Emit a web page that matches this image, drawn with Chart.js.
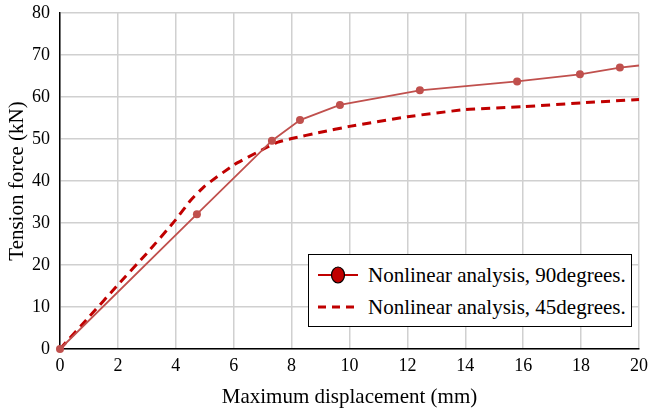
<!DOCTYPE html>
<html>
<head>
<meta charset="utf-8">
<script src="https://cdn.jsdelivr.net/npm/chart.js@4"></script>
<style>
  html, body { margin: 0; padding: 0; background: #fff; }
  #wrap { position: relative; width: 648px; height: 414px; }
  #legend {
    position: absolute; left: 308px; top: 254px; width: 324px; height: 73px;
    border: 1.5px solid #000; background: #fff; box-sizing: border-box;
    font-family: 'Liberation Serif', 'Times New Roman', serif; font-size: 21px; color: #000;
  }
  .row { position: absolute; left: 8px; height: 30px; display: flex; align-items: center; }
  .row svg { margin-right: 9px; }
</style>
</head>
<body>
<div id="wrap">
  <canvas id="chart" width="648" height="414"></canvas>
  <div id="legend">
    <div class="row" style="top:5px"><svg width="42" height="20"><line x1="1" y1="10" x2="41" y2="10" stroke="#C00000" stroke-width="2"/><ellipse cx="21" cy="10" rx="6.5" ry="8" fill="#C00000" stroke="#000" stroke-width="1.2"/></svg><span>Nonlinear analysis, 90degrees.</span></div>
    <div class="row" style="top:37px"><svg width="42" height="20"><line x1="1" y1="10" x2="41" y2="10" stroke="#C00000" stroke-width="3" stroke-dasharray="8,6"/></svg><span>Nonlinear analysis, 45degrees.</span></div>
  </div>
</div>
<script>
// data (displacement mm, force kN)
const disp90 = [0, 4.73, 7.32, 8.29, 9.67, 12.43, 15.79, 17.96, 19.34, 20];
const force90 = [0, 32.1, 49.6, 54.5, 58.1, 61.6, 63.7, 65.4, 67.0, 67.5];
const radius90 = [4, 4, 4, 4, 4, 4, 4, 4, 4, 0];

const disp45 = [0, 1, 2, 3, 4, 4.5, 5, 6, 7, 7.5, 8, 9, 10, 12, 14, 16, 18, 20];
const force45 = [0, 7.6, 15.3, 22.8, 30.8, 35.3, 38.8, 43.8, 47.5, 49.2, 50.1, 51.6, 53, 55.3, 57, 57.7, 58.6, 59.4];

const xTicks = [0, 2, 4, 6, 8, 10, 12, 14, 16, 18, 20];
const yTicks = [0, 10, 20, 30, 40, 50, 60, 70, 80];

const serif = "'Liberation Serif', 'Times New Roman', serif";

const ctx = document.getElementById('chart').getContext('2d');
new Chart(ctx, {
  type: 'line',
  data: {
    datasets: [
      {
        label: 'Nonlinear analysis, 90degrees.',
        data: disp90.map((x, i) => ({ x: x, y: force90[i] })),
        borderColor: '#C0504D',
        backgroundColor: '#C0504D',
        borderWidth: 1.8,
        pointRadius: radius90,
        pointBorderWidth: 0,
        tension: 0
      },
      {
        label: 'Nonlinear analysis, 45degrees.',
        data: disp45.map((x, i) => ({ x: x, y: force45[i] })),
        borderColor: '#C00000',
        borderWidth: 3,
        borderDash: [9, 6],
        pointRadius: 0,
        tension: 0.15
      }
    ]
  },
  options: {
    responsive: false,
    animation: false,
    clip: false,
    layout: { padding: { top: 13, right: 9, left: 0, bottom: 0 } },
    plugins: { legend: { display: false }, tooltip: { enabled: false } },
    scales: {
      x: {
        type: 'linear', min: 0, max: 20,
        afterBuildTicks: s => { s.ticks = xTicks.map(v => ({ value: v })); },
        afterFit: s => { s.height = 65; s.paddingLeft = 0; s.paddingRight = 0; },
        ticks: { color: '#000', font: { family: serif, size: 18 }, padding: 6 },
        grid: { color: '#d0d0d0', lineWidth: 1.5, drawTicks: false },
        border: { color: '#000', width: 1.5 },
        title: { display: true, text: 'Maximum displacement (mm)', color: '#000', font: { family: serif, size: 21 }, padding: { top: 2 } }
      },
      y: {
        min: 0, max: 80,
        afterBuildTicks: s => { s.ticks = yTicks.map(v => ({ value: v })); },
        afterFit: s => { s.width = 60; s.paddingTop = 0; s.paddingBottom = 0; },
        ticks: { color: '#000', font: { family: serif, size: 18 }, padding: 10 },
        grid: { color: '#d0d0d0', lineWidth: 1.5, drawTicks: false },
        border: { color: '#000', width: 1.5 },
        title: { display: true, text: 'Tension force (kN)', color: '#000', font: { family: serif, size: 21 }, padding: { top: 5, bottom: 0 } }
      }
    }
  }
});
</script>
</body>
</html>
